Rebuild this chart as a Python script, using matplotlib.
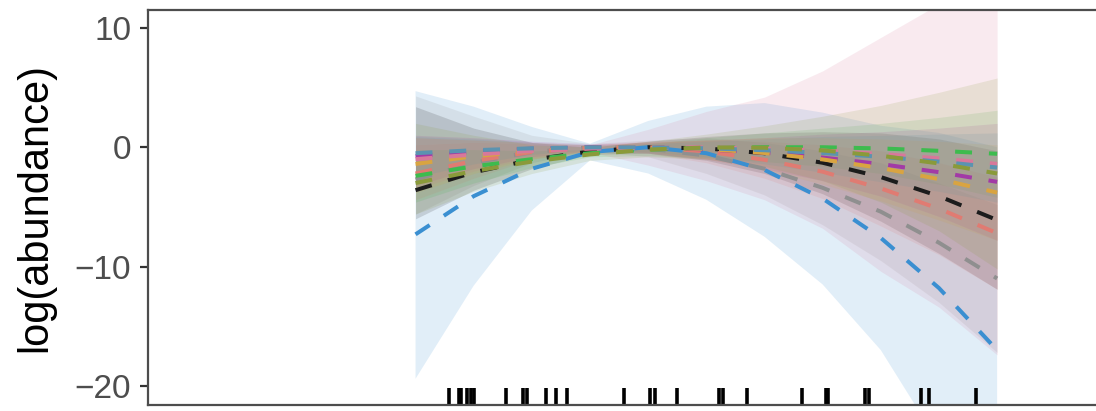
import numpy as np
import matplotlib
matplotlib.use('Agg')
import matplotlib.pyplot as plt

plt.rcParams['font.family'] = ['Liberation Sans', 'DejaVu Sans']

# OPTIONS / DATA
#===============================================================================
# position along the gradient (no labels shown on the x axis)
xgrid = [0, 1, 2, 3, 4, 5, 6, 7, 8, 9, 10]

species = ['blue', 'grey', 'black', 'salmon', 'green',
           'purple', 'gold', 'rose', 'teal', 'olive']
colours = ['#3a8fd1', '#8f8f8f', '#1c1c1c', '#e07b72', '#3dbb4e',
           '#a23aa6', '#d9a441', '#d8789a', '#5b93b0', '#8a9a3a']

# fitted log(abundance) per species
fit = [
  [-7.3, -4.1, -1.8, -0.4, 0.0, -0.5, -1.9, -4.3, -7.6, -11.8, -17.0],
  [-2.7, -1.3, -0.4, 0.0, -0.1, -0.7, -1.8, -3.4, -5.4, -8.0, -11.0],
  [-3.6, -2.1, -1.05, -0.35, 0.0, -0.1, -0.5, -1.3, -2.5, -4.1, -6.1],
  [-2.2, -1.15, -0.4, -0.05, 0.0, -0.35, -1.05, -2.05, -3.45, -5.15, -7.2],
  [-2.4, -1.6, -1.0, -0.5, -0.2, -0.05, 0.0, 0.0, -0.1, -0.3, -0.55],
  [-0.75, -0.37, -0.12, -0.01, -0.03, -0.18, -0.46, -0.87, -1.41, -2.09, -2.9],
  [-1.4, -0.76, -0.31, -0.06, 0.0, -0.15, -0.48, -1.02, -1.74, -2.67, -3.8],
  [-1.0, -0.61, -0.32, -0.12, -0.02, -0.01, -0.1, -0.28, -0.56, -0.93, -1.4],
  [-0.5, -0.25, -0.09, -0.01, -0.01, -0.09, -0.25, -0.48, -0.8, -1.2, -1.7],
  [-3.0, -2.0, -1.2, -0.6, -0.2, -0.02, -0.04, -0.27, -0.71, -1.36, -2.2],
]
# lower confidence bound
lower = [
  [-19.4, -11.6, -5.3, -1.1, -2.2, -4.4, -7.5, -11.5, -17.0, -24.8, -34.0],
  [-5.6, -3.2, -1.3, -0.3, -0.8, -2.2, -4.0, -6.5, -9.5, -13.0, -17.2],
  [-6.0, -3.6, -1.8, -0.6, -0.5, -1.1, -2.2, -3.9, -6.2, -8.9, -11.9],
  [-4.4, -2.6, -1.0, -0.3, -0.5, -1.3, -2.6, -4.3, -6.6, -9.0, -11.9],
  [-4.6, -3.0, -1.7, -0.8, -0.7, -0.9, -1.2, -1.6, -2.2, -3.1, -4.2],
  [-3.2, -1.8, -0.8, -0.3, -0.5, -1.0, -1.8, -2.8, -4.1, -5.8, -7.8],
  [-3.8, -2.2, -1.0, -0.3, -0.4, -1.0, -1.9, -3.1, -4.5, -6.1, -7.8],
  [-3.5, -2.0, -0.9, -0.4, -1.5, -2.8, -4.4, -6.8, -10.4, -13.4, -17.4],
  [-2.5, -1.4, -0.6, -0.2, -0.4, -0.8, -1.4, -2.1, -2.9, -3.7, -4.6],
  [-5.6, -3.7, -2.2, -1.1, -0.8, -1.0, -1.6, -2.8, -4.6, -7.0, -10.2],
]
# upper confidence bound
upper = [
  [4.7, 3.4, 1.7, 0.3, 2.2, 3.4, 3.7, 2.9, 1.8, 1.2, 0.0],
  [4.3, 2.6, 1.0, 0.3, 0.6, 0.8, 0.4, -0.3, -1.3, -3.0, -4.8],
  [3.4, 1.6, 0.4, 0.0, 0.5, 0.9, 1.2, 1.3, 1.2, 0.7, -0.3],
  [0.2, 0.4, 0.3, 0.2, 0.5, 0.6, 0.5, 0.2, -0.3, -1.3, -2.5],
  [-0.2, -0.2, -0.3, -0.2, 0.3, 0.8, 1.2, 1.6, 2.0, 2.5, 3.1],
  [1.0, 0.8, 0.5, 0.3, 0.4, 0.6, 0.8, 1.1, 1.3, 1.6, 2.0],
  [0.8, 0.6, 0.4, 0.2, 0.4, 0.6, 0.8, 0.8, 0.7, 0.5, 0.2],
  [0.8, 0.6, 0.4, 0.2, 1.5, 3.0, 4.2, 6.4, 9.2, 12.0, 14.6],
  [0.9, 0.7, 0.4, 0.2, 0.3, 0.5, 0.7, 0.9, 1.0, 1.1, 1.2],
  [2.0, 1.0, 0.2, 0.0, 0.5, 1.1, 1.8, 2.6, 3.5, 4.6, 5.8],
]

# observed sample positions (rug)
rug_x = [0.57, 0.74, 0.79, 0.89, 0.95, 1.0, 1.55, 1.85, 1.91, 2.25, 2.41,
         2.61, 3.58, 4.04, 4.12, 4.49, 5.22, 5.29, 5.70, 6.64, 7.05, 7.10,
         7.73, 7.79, 8.69, 8.83, 9.63]

y_ticks = [10, 0, -10, -20]
#===============================================================================

fig = plt.figure(figsize=(10.96, 4.11), dpi=100)
ax = fig.add_axes([148/1096, 6/411, 948/1096, 395/411])

# ribbons first
for i in range(len(species)):
  ax.fill_between(xgrid, lower[i], upper[i], color=colours[i], alpha=0.15,
                  linewidth=0)

# fitted curves on top
for i in range(len(species)):
  ax.plot(xgrid, fit[i], color=colours[i], lw=2.9, dashes=(4.2, 4.2),
          dash_capstyle='butt')

ax.vlines(rug_x, 0, 0.043, transform=ax.get_xaxis_transform(),
          color='black', lw=2.6)

ax.set_xlim(-4.6, 11.7)
ax.set_ylim(-21.6, 11.5)
ax.set_xticks([])
ax.set_yticks(y_ticks)
ax.set_yticklabels(['10', '0', '\u221210', '\u221220'])
ax.tick_params(axis='y', length=6, width=1.6, color='#333333',
               labelsize=24, labelcolor='#4d4d4d', pad=6)
ax.set_ylabel('log(abundance)', fontsize=30, color='black', labelpad=14)

for side in ['left', 'top', 'bottom']:
  ax.spines[side].set_color('#4d4d4d')
  ax.spines[side].set_linewidth(1.6)
ax.spines['right'].set_visible(False)

plt.savefig('out.png', dpi=100)
